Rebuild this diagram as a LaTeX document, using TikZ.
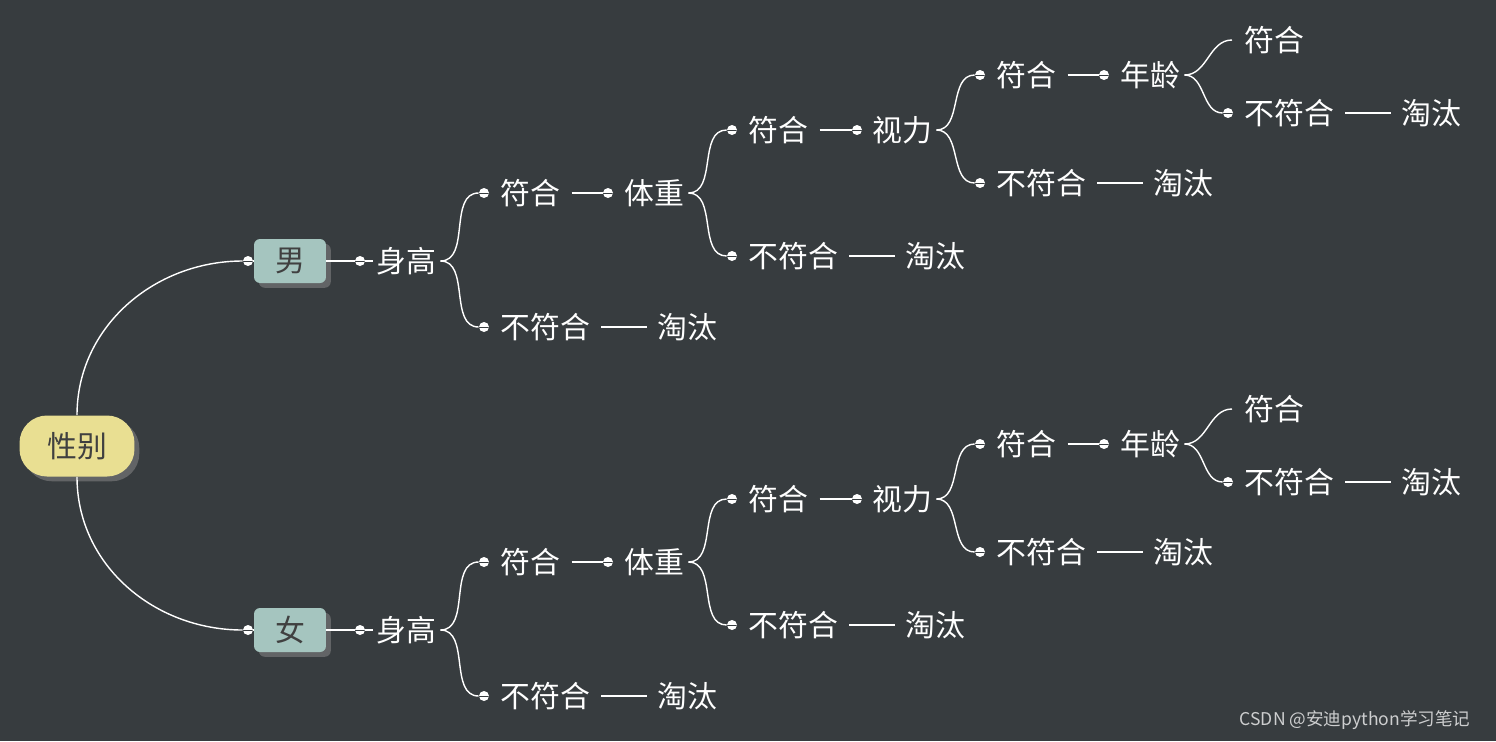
\documentclass[tikz,border=0pt]{standalone}
\usepackage{fontspec}
\setmainfont{Noto Sans CJK SC}
\usetikzlibrary{shadows}
\definecolor{bgcol}{HTML}{373C3F}
\definecolor{rootcol}{HTML}{E9DF92}
\definecolor{sexcol}{HTML}{A5C5BF}

\begin{document}
\begin{tikzpicture}[x=0.02cm,y=-0.02cm,
    lbl/.style={text=white,font=\fontsize{17}{20}\selectfont,inner sep=2pt,anchor=west},
    link/.style={draw=white,line width=0.8pt},
    dotmark/.style={circle,fill=white,inner sep=0pt,minimum size=0.2cm,
      path picture={\draw[bgcol,line width=0.5pt] (path picture bounding box.west) -- (path picture bounding box.east);}},
    rootbox/.style={rounded corners=0.55cm,fill=rootcol,minimum width=2.3cm,minimum height=1.22cm,
      font=\fontsize{17}{20}\selectfont,text=black!75,drop shadow={opacity=0.6}},
    sexbox/.style={rounded corners=0.12cm,fill=sexcol,minimum width=1.44cm,minimum height=0.88cm,
      font=\fontsize{17}{20}\selectfont,text=black!75,drop shadow={opacity=0.6}}]
    % Background
    \fill[bgcol] (0,0) rectangle (1496,741);

    % Root
    \node[rootbox] (root) at (77,446) {性别};

    % Two halves
    \foreach \s/\o/\lab/\dir in {m/0/男/90,f/369/女/-90} {
    \begin{scope}[shift={(0,\o)}]
        \node[dotmark] (\s-d0) at (248,261) {};
        \node[sexbox] (\s-box) at (290,261) {\lab};
        \node[dotmark] (\s-d1) at (360,261) {};
        \node[lbl] (\s-h) at (373,261) {身高};
        % height
        \node[dotmark] (\s-d2) at (484,193) {};
        \node[lbl] (\s-hy) at (497,193) {符合};
        \node[dotmark] (\s-d3) at (484,327) {};
        \node[lbl] (\s-hn) at (497,327) {不符合};
        \node[lbl] (\s-hx) at (654,327) {淘汰};
        % weight
        \node[dotmark] (\s-d4) at (608,193) {};
        \node[lbl] (\s-w) at (621,193) {体重};
        \node[dotmark] (\s-d5) at (732,130) {};
        \node[lbl] (\s-wy) at (745,130) {符合};
        \node[dotmark] (\s-d6) at (732,256) {};
        \node[lbl] (\s-wn) at (745,256) {不符合};
        \node[lbl] (\s-wx) at (902,256) {淘汰};
        % vision
        \node[dotmark] (\s-d7) at (857,130) {};
        \node[lbl] (\s-v) at (869,130) {视力};
        \node[dotmark] (\s-d8) at (980,75) {};
        \node[lbl] (\s-vy) at (993,75) {符合};
        \node[dotmark] (\s-d9) at (980,183) {};
        \node[lbl] (\s-vn) at (993,183) {不符合};
        \node[lbl] (\s-vx) at (1150,183) {淘汰};
        % age
        \node[dotmark] (\s-d10) at (1104,75) {};
        \node[lbl] (\s-a) at (1117,75) {年龄};
        \coordinate (\s-d11) at (1232,40);
        \node[lbl] (\s-ay) at (1241,40) {符合};
        \node[dotmark] (\s-d12) at (1228,113) {};
        \node[lbl] (\s-an) at (1241,113) {不符合};
        \node[lbl] (\s-ax) at (1398,113) {淘汰};

        % Connectors
        \draw[link] (\s-d0) -- (\s-box);
        \draw[link] (\s-box) -- (\s-d1) -- (\s-h);
        \draw[link] (\s-h.east) to[out=0,in=180] (\s-d2);
        \draw[link] (\s-h.east) to[out=0,in=180] (\s-d3);
        \draw[link] ([xshift=4pt]\s-hy.east) -- (\s-d4);
        \draw[link] ([xshift=4pt]\s-hn.east) -- ([xshift=-4pt]\s-hx.west);
        \draw[link] (\s-w.east) to[out=0,in=180] (\s-d5);
        \draw[link] (\s-w.east) to[out=0,in=180] (\s-d6);
        \draw[link] ([xshift=4pt]\s-wy.east) -- (\s-d7);
        \draw[link] ([xshift=4pt]\s-wn.east) -- ([xshift=-4pt]\s-wx.west);
        \draw[link] (\s-v.east) to[out=0,in=180] (\s-d8);
        \draw[link] (\s-v.east) to[out=0,in=180] (\s-d9);
        \draw[link] ([xshift=4pt]\s-vy.east) -- (\s-d10);
        \draw[link] ([xshift=4pt]\s-vn.east) -- ([xshift=-4pt]\s-vx.west);
        \draw[link] (\s-a.east) to[out=0,in=180] (\s-d11);
        \draw[link] (\s-a.east) to[out=0,in=180] (\s-d12);
        \draw[link] ([xshift=4pt]\s-an.east) -- ([xshift=-4pt]\s-ax.west);
    \end{scope}
    \draw[link] (root.\dir) to[out=\dir,in=180] (\s-d0);
    }

    % Watermark
    \node[text=white!75!bgcol,font=\fontsize{10}{12}\selectfont] (mark) at (1355,720) {CSDN @安迪python学习笔记};
\end{tikzpicture}
\end{document}
